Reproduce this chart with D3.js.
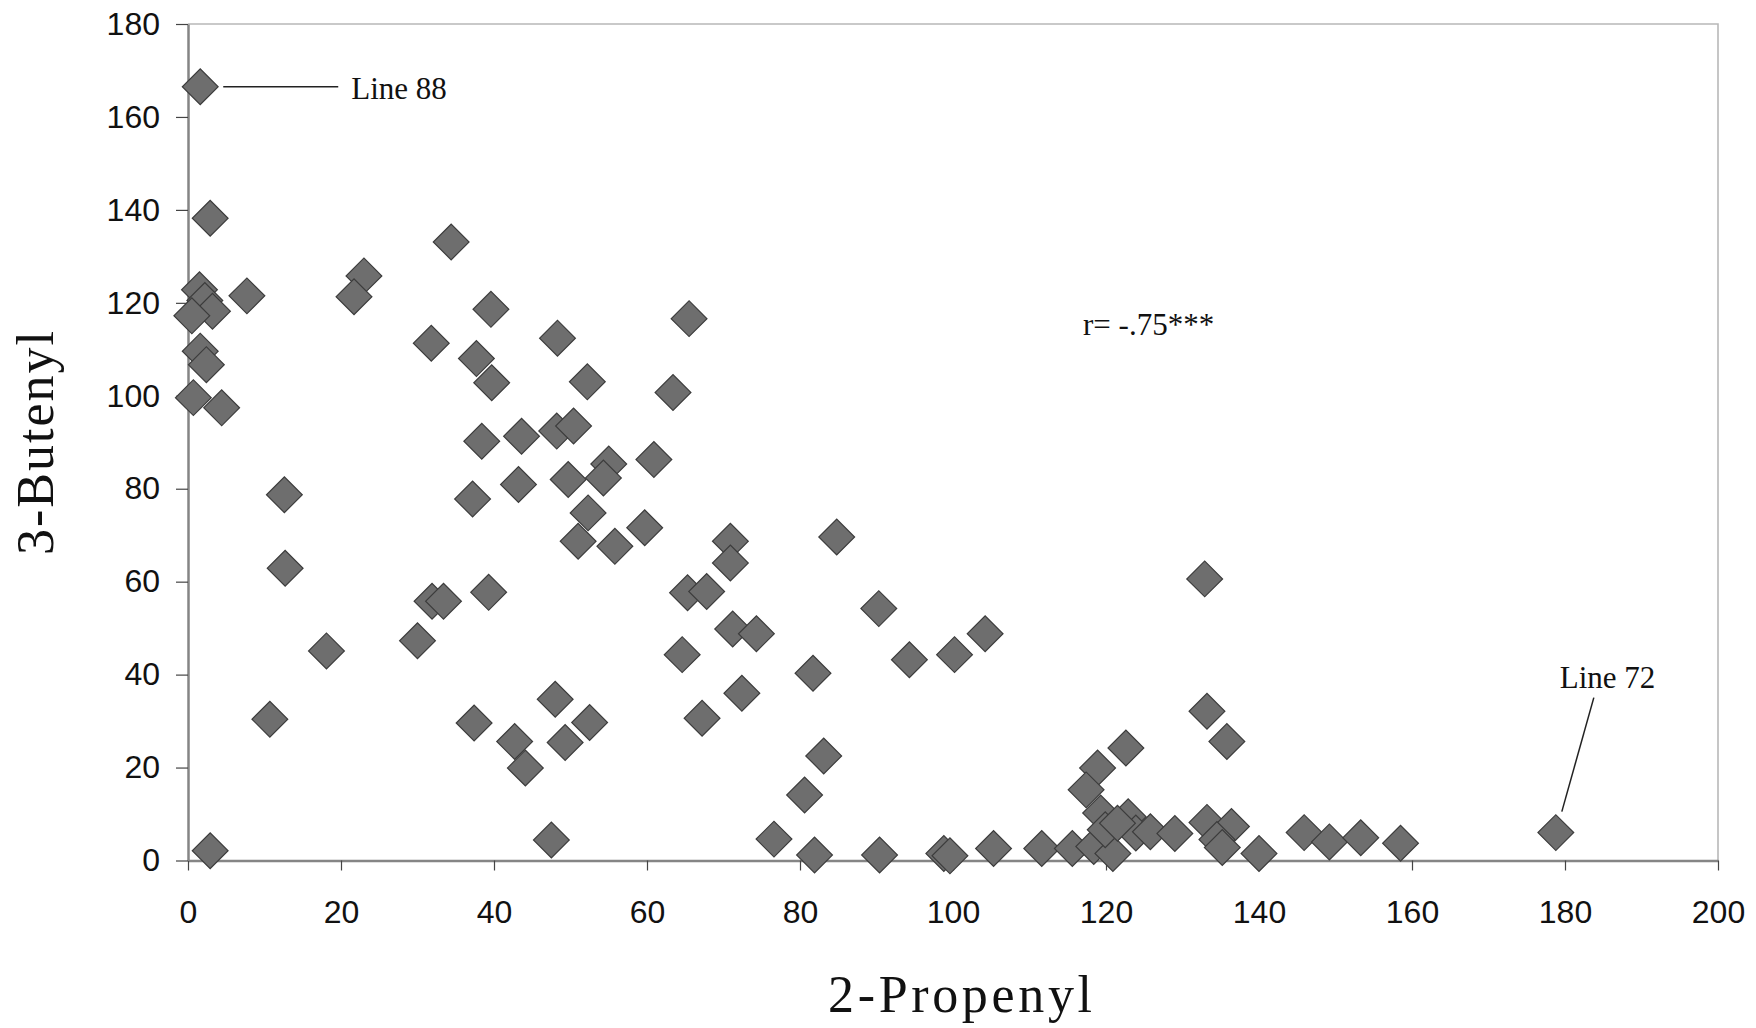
<!DOCTYPE html>
<html>
<head>
<meta charset="utf-8">
<script src="https://cdn.jsdelivr.net/npm/d3@7/dist/d3.min.js"></script>
<style>
  body { margin: 0; background: #fff; }
  svg { display: block; }
</style>
</head>
<body>
<div id="chart"></div>
<script>
// 2-Propenyl (x) and 3-Butenyl (y) for each line
var propenyl = [
  1.6, 2.9, 34.4, 23.0, 21.7, 1.5, 2.2, 3.2, 0.5, 7.7,
  39.6, 31.8, 48.3, 37.7, 39.7, 52.2, 63.4, 65.5, 1.6, 2.4,
  0.7, 4.4, 38.4, 43.6, 48.2, 50.4, 60.9, 55.0, 54.3, 49.7,
  43.2, 37.2, 52.3, 59.7, 51.0, 55.8, 12.6, 12.7, 18.1, 10.7,
  2.9, 31.9, 33.4, 39.3, 30.0, 48.0, 37.4, 42.7, 44.1, 49.3,
  52.5, 47.5, 70.9, 70.9, 84.8, 65.3, 67.8, 90.3, 104.2, 71.2,
  74.3, 64.6, 81.7, 94.3, 100.2, 72.4, 67.2, 83.1, 80.6, 76.6,
  81.9, 90.4, 98.8, 99.6, 105.3, 111.6, 115.6, 118.4, 120.9, 122.6,
  118.9, 117.4, 119.3, 122.9, 119.9, 123.9, 121.5, 125.8, 129.0, 133.2,
  135.8, 132.9, 133.2, 136.4, 134.5, 135.2, 140.0, 145.9, 149.2, 153.3,
  158.5, 178.8
];
var butenyl = [
  166.5, 138.2, 133.1, 125.8, 121.3, 122.8, 120.5, 118.2, 117.2, 121.5,
  118.6, 111.3, 112.4, 108.0, 102.8, 103.0, 100.7, 116.6, 109.6, 106.7,
  99.6, 97.4, 90.2, 91.3, 92.4, 93.5, 86.3, 85.3, 82.3, 82.0,
  80.9, 77.8, 74.8, 71.6, 68.7, 67.6, 78.7, 62.9, 45.1, 30.4,
  2.1, 55.8, 55.8, 57.7, 47.3, 34.7, 29.6, 25.6, 19.9, 25.4,
  29.7, 4.4, 68.7, 64.0, 69.6, 57.6, 57.9, 54.2, 48.8, 49.8,
  48.8, 44.3, 40.3, 43.2, 44.3, 36.0, 30.6, 22.5, 14.1, 4.6,
  1.2, 1.2, 1.5, 1.0, 2.6, 2.6, 2.6, 3.0, 1.5, 24.2,
  19.9, 15.2, 10.2, 9.4, 6.6, 5.9, 8.0, 6.2, 5.8, 32.1,
  25.6, 60.6, 8.2, 7.3, 4.5, 2.8, 1.5, 6.0, 4.0, 4.9,
  3.7, 6.0
];
var xTicks = [0, 20, 40, 60, 80, 100, 120, 140, 160, 180, 200];
var yTicks = [0, 20, 40, 60, 80, 100, 120, 140, 160, 180];
var xTitle = "2-Propenyl";
var yTitle = "3-Butenyl";
var corrLabel = "r= -.75***";
var callouts = ["Line 88", "Line 72"];

var width = 1756, height = 1028;
var plotLeft = 188, plotRight = 1718, plotTop = 24, plotBottom = 860.5;

var svg = d3.select("#chart").append("svg")
  .attr("width", width)
  .attr("height", height);

svg.append("rect").attr("width", width).attr("height", height).attr("fill", "#fff");

var x = d3.scaleLinear().domain([0, 200]).range([plotLeft, plotRight]);
var y = d3.scaleLinear().domain([0, 180]).range([plotBottom, plotTop]);

// plot frame (top and right)
svg.append("path")
  .attr("d", "M" + x(0) + "," + y(180) + "H" + x(200) + "V" + y(0))
  .attr("fill", "none")
  .attr("stroke", "#b8b8b8")
  .attr("stroke-width", 1.6);

var xAxis = svg.append("g")
  .attr("transform", "translate(0," + y(0) + ")")
  .call(d3.axisBottom(x).tickValues(xTicks).tickSize(10).tickSizeOuter(0).tickPadding(30));

var yAxis = svg.append("g")
  .attr("transform", "translate(" + x(0) + ",0)")
  .call(d3.axisLeft(y).tickValues(yTicks).tickSize(12).tickSizeOuter(0).tickPadding(16));

[xAxis, yAxis].forEach(function(a) {
  a.select(".domain").attr("stroke", "#858585").attr("stroke-width", 2.5);
  a.selectAll(".tick line").attr("stroke", "#444").attr("stroke-width", 1.2);
  a.selectAll(".tick text")
    .attr("fill", "#111")
    .style("font-family", "'Liberation Sans', Arial, sans-serif")
    .style("font-size", "32px");
});

// points
var pts = propenyl.map(function(v, i) { return {x: v, y: butenyl[i]}; });
var diamond = d3.symbol().type(d3.symbolSquare).size(640);

svg.append("g").selectAll("path")
  .data(pts)
  .enter().append("path")
  .attr("d", diamond)
  .attr("transform", function(d) { return "translate(" + x(d.x) + "," + y(d.y) + ") rotate(45)"; })
  .attr("fill", "#6e6e6e")
  .attr("stroke", "#3c3c3c")
  .attr("stroke-width", 1.2);

var serif = "'Liberation Serif', 'Times New Roman', serif";

// callout: Line 88 (first point)
var p88 = pts[0];
svg.append("line")
  .attr("x1", x(p88.x) + 23).attr("y1", y(p88.y))
  .attr("x2", x(p88.x) + 138).attr("y2", y(p88.y))
  .attr("stroke", "#222").attr("stroke-width", 1.5);
svg.append("text")
  .attr("x", x(p88.x) + 151).attr("y", y(p88.y) + 12)
  .style("font-family", serif).style("font-size", "31px").attr("fill", "#111")
  .text(callouts[0]);

// callout: Line 72 (last point)
var p72 = pts[pts.length - 1];
svg.append("line")
  .attr("x1", x(p72.x) + 6).attr("y1", y(p72.y) - 21)
  .attr("x2", x(p72.x) + 38).attr("y2", y(p72.y) - 135)
  .attr("stroke", "#222").attr("stroke-width", 1.5);
svg.append("text")
  .attr("x", x(p72.x) + 4).attr("y", y(p72.y) - 145)
  .style("font-family", serif).style("font-size", "31px").attr("fill", "#111")
  .text(callouts[1]);

// correlation label
svg.append("text")
  .attr("x", x(117)).attr("y", y(113))
  .style("font-family", serif).style("font-size", "31px").attr("fill", "#111")
  .text(corrLabel);

// axis titles
svg.append("text")
  .attr("x", 960).attr("y", 1012)
  .attr("text-anchor", "middle")
  .attr("textLength", 264).attr("lengthAdjust", "spacing")
  .style("font-family", serif).style("font-size", "52px").attr("fill", "#111")
  .text(xTitle);

svg.append("text")
  .attr("transform", "translate(53,443) rotate(-90)")
  .attr("text-anchor", "middle")
  .attr("textLength", 224).attr("lengthAdjust", "spacing")
  .style("font-family", serif).style("font-size", "52px").attr("fill", "#111")
  .text(yTitle);
</script>
</body>
</html>
